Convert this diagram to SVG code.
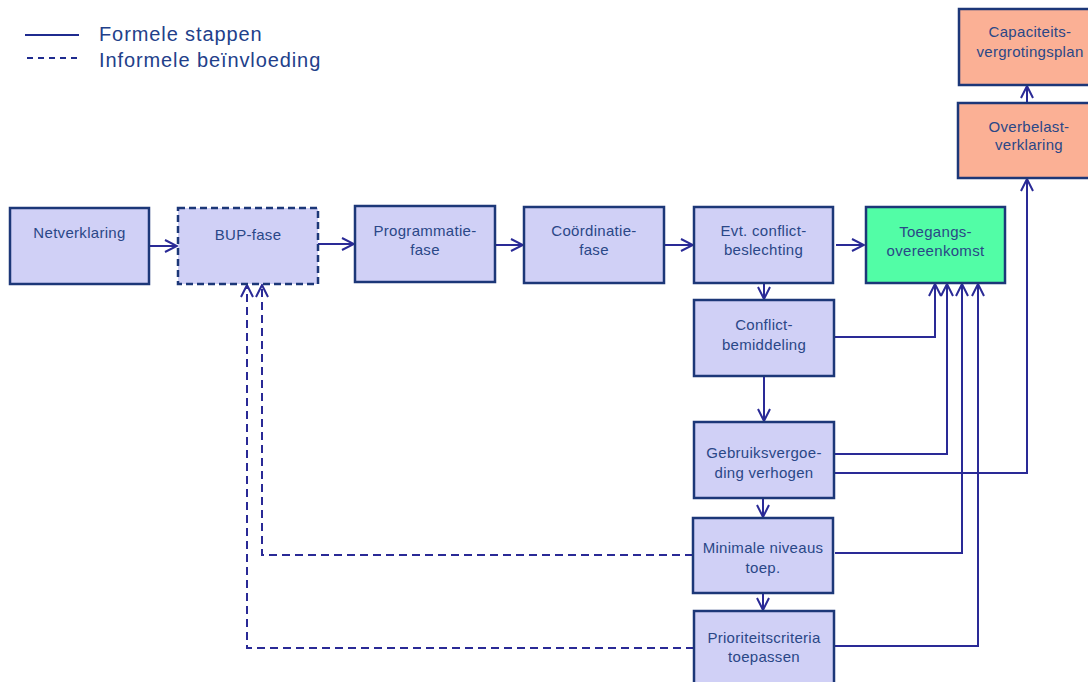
<svg xmlns="http://www.w3.org/2000/svg" width="1088" height="682" viewBox="0 0 1088 682">
<defs>
<style>
.box{fill:#d0d0f6;stroke:#1c3778;stroke-width:2.5}
.dash{stroke-dasharray:7 4}
.green{fill:#52fda6}
.salmon{fill:#fbb095}
.t{font-family:"Liberation Sans",Arial,sans-serif;font-size:15px;fill:#2a4787;text-anchor:middle;letter-spacing:0.3px}
.leg{font-family:"Liberation Sans",Arial,sans-serif;font-size:20px;fill:#22408a;letter-spacing:0.9px}
.c{fill:none;stroke:#2a2a96;stroke-width:2}
.cd{fill:none;stroke:#2a2a96;stroke-width:2;stroke-dasharray:8 5}
</style>
<marker id="a" viewBox="0 0 14 14" refX="13" refY="7" markerWidth="14" markerHeight="14" markerUnits="userSpaceOnUse" orient="auto">
<path d="M1,1 L13,7 L1,13" fill="none" stroke="#2a2a96" stroke-width="2"/>
</marker>
</defs>
<rect width="1088" height="682" fill="#fff"/>
<g id="legend">
<line x1="25" y1="35" x2="79" y2="35" stroke="#1f2b8f" stroke-width="2"/>
<text class="leg" x="99" y="41">Formele stappen</text>
<line x1="27" y1="58" x2="79" y2="58" stroke="#1f2b8f" stroke-width="2" stroke-dasharray="6 5"/>
<text class="leg" x="99" y="67">Informele beïnvloeding</text>
</g>
<g id="connectors">
<path class="c" d="M149,246 H177" marker-end="url(#a)"/>
<path class="c" d="M318,244 H354" marker-end="url(#a)"/>
<path class="c" d="M495,245 H523" marker-end="url(#a)"/>
<path class="c" d="M664,245 H693" marker-end="url(#a)"/>
<path class="c" d="M836,245 H864" marker-end="url(#a)"/>
<path class="c" d="M764,283 V299" marker-end="url(#a)"/>
<path class="c" d="M764,376 V421" marker-end="url(#a)"/>
<path class="c" d="M763,498 V517" marker-end="url(#a)"/>
<path class="c" d="M763,593 V610" marker-end="url(#a)"/>
<path class="c" d="M834,337 H935 V284" marker-end="url(#a)"/>
<path class="c" d="M834,454 H947 V284" marker-end="url(#a)"/>
<path class="c" d="M834,473 H1027 V179" marker-end="url(#a)"/>
<path class="c" d="M835,553 H962 V284" marker-end="url(#a)"/>
<path class="c" d="M834,646 H978 V284" marker-end="url(#a)"/>
<path class="c" d="M1027,103 V86" marker-end="url(#a)"/>
<path class="cd" d="M693,555 H262 V285" marker-end="url(#a)"/>
<path class="cd" d="M694,648 H247 V285" marker-end="url(#a)"/>
</g>
<g id="netverklaring">
<rect class="box" x="10" y="208" width="139" height="76"/>
<text class="t" x="79.5" y="238">Netverklaring</text>
</g>
<g id="bup-fase">
<rect class="box dash" x="178" y="208" width="140" height="76"/>
<text class="t" x="248" y="240">BUP-fase</text>
</g>
<g id="programmatiefase">
<rect class="box" x="355" y="206" width="140" height="76"/>
<text class="t" x="425" y="236">Programmatie-</text>
<text class="t" x="425" y="255">fase</text>
</g>
<g id="coordinatiefase">
<rect class="box" x="524" y="207" width="140" height="76"/>
<text class="t" x="594" y="236">Coördinatie-</text>
<text class="t" x="594" y="255">fase</text>
</g>
<g id="conflictbeslechting">
<rect class="box" x="694" y="207" width="139" height="76"/>
<text class="t" x="763.5" y="236">Evt. conflict-</text>
<text class="t" x="763.5" y="255">beslechting</text>
</g>
<g id="toegangsovereenkomst">
<rect class="box green" x="866" y="207" width="139" height="76"/>
<text class="t" x="935.5" y="237">Toegangs-</text>
<text class="t" x="935.5" y="256">overeenkomst</text>
</g>
<g id="capaciteitsvergrotingsplan">
<rect class="box salmon" x="959" y="9" width="140" height="76"/>
<text class="t" x="1030" y="37">Capaciteits-</text>
<text class="t" x="1030" y="57">vergrotingsplan</text>
</g>
<g id="overbelastverklaring">
<rect class="box salmon" x="958" y="103" width="140" height="75"/>
<text class="t" x="1029" y="132">Overbelast-</text>
<text class="t" x="1029" y="150">verklaring</text>
</g>
<g id="conflictbemiddeling">
<rect class="box" x="694" y="300" width="140" height="76"/>
<text class="t" x="764" y="330">Conflict-</text>
<text class="t" x="764" y="350">bemiddeling</text>
</g>
<g id="gebruiksvergoeding">
<rect class="box" x="694" y="422" width="140" height="76"/>
<text class="t" x="764" y="458">Gebruiksvergoe-</text>
<text class="t" x="764" y="478">ding verhogen</text>
</g>
<g id="minimaleniveaus">
<rect class="box" x="693" y="518" width="140" height="75"/>
<text class="t" x="763" y="553">Minimale niveaus</text>
<text class="t" x="763" y="573">toep.</text>
</g>
<g id="prioriteitscriteria">
<rect class="box" x="694" y="611" width="140" height="80"/>
<text class="t" x="764" y="643">Prioriteitscriteria</text>
<text class="t" x="764" y="662">toepassen</text>
</g>
</svg>
